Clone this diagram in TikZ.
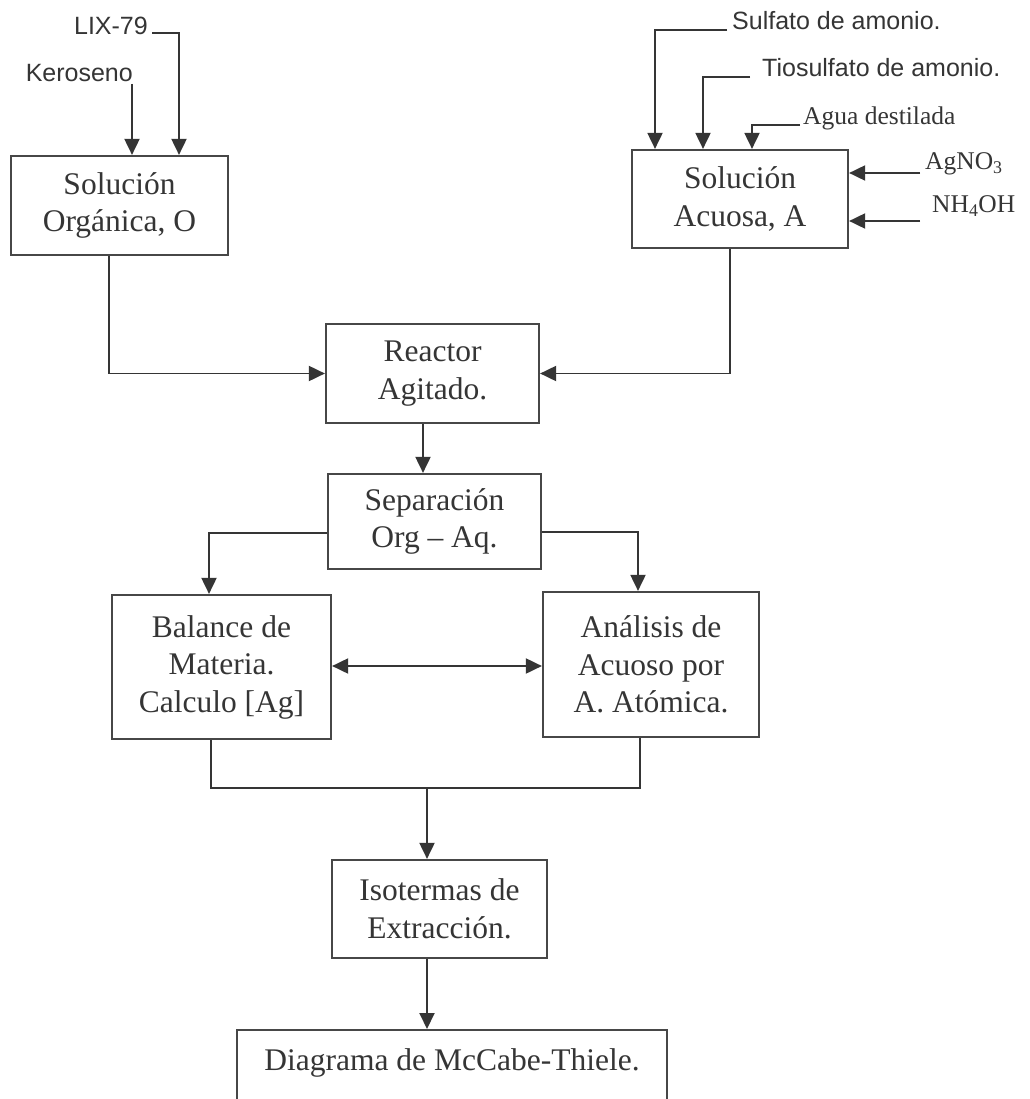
\documentclass[tikz,border=0pt]{standalone}
\usepackage{fontspec}
\usetikzlibrary{arrows.meta}
\newfontfamily\tnr[Ligatures=TeX]{Liberation Serif}
\newfontfamily\arl[Ligatures=TeX]{Liberation Sans}
\newcommand\boxfont{\tnr\fontsize{31.5}{37.5}\selectfont}
\newcommand\labfont{\tnr\fontsize{25.5}{30}\selectfont}
\newcommand\sansfont{\arl\fontsize{25}{30}\selectfont}
\definecolor{ink}{HTML}{353535}
\definecolor{boxc}{HTML}{474747}
\begin{document}
\begin{tikzpicture}[x=1pt,y=-1pt,
  box/.style={draw=boxc, line width=2.2pt, inner sep=0pt, align=center, font=\boxfont, text=ink},
  lab/.style={inner sep=0pt, font=\labfont, text=ink},
  slab/.style={inner sep=0pt, font=\sansfont, text=ink},
  conn/.style={draw=ink, line width=1.9pt},
  flow/.style={conn, -{Triangle[length=16pt,width=15pt]}},
  both/.style={conn, {Triangle[length=16pt,width=15pt]}-{Triangle[length=16pt,width=15pt]}}]
\clip (0,0) rectangle (1029,1099);
\fill[white] (0,0) rectangle (1029,1099);

% boxes
\node[box, minimum width=217pt, minimum height=99pt] (org) at (119.5,205.5) {Solución\\Orgánica, O};
\node[box, minimum width=216pt, minimum height=98pt] (acu) at (740,199) {Solución\\Acuosa, A};
\node[box, minimum width=213pt, minimum height=99pt] (reac) at (432.5,373.5) {Reactor\\Agitado.};
\node[box, minimum width=213pt, minimum height=95pt] (sep) at (434.5,521.5) {Separación\\Org – Aq.};
\node[box, minimum width=219pt, minimum height=144pt] (bal) at (221.5,667) {Balance de\\Materia.\\Calculo [Ag]};
\node[box, minimum width=216pt, minimum height=145pt] (ana) at (651,664.5) {Análisis de\\Acuoso por\\A. Atómica.};
\node[box, minimum width=215pt, minimum height=98pt] (iso) at (439.5,909) {Isotermas de\\Extracción.};
\node[box, minimum width=430pt, minimum height=120pt, anchor=north] (diag) at (452,1029) {};
\node[inner sep=0pt, font=\boxfont, text=ink, anchor=base] (diagt) at (452,1070) {Diagrama de McCabe-Thiele.};

% input labels
\node[slab, anchor=base east] (ker) at (133,82) {Keroseno};
\node[slab, anchor=base east] (lix) at (148,35) {LIX-79};
\node[slab, anchor=base west] (sulf) at (732,30) {Sulfato de amonio.};
\node[slab, anchor=base west] (tios) at (762,77) {Tiosulfato de amonio.};
\node[lab, anchor=base west] (agua) at (803,125) {Agua destilada};
\node[lab, anchor=base west] (agno) at (925,170) {AgNO\textsubscript{3}};
\node[lab, anchor=base west] (nh) at (932,213) {NH\textsubscript{4}OH};

% feed connectors
\coordinate (kin) at (132,84);
\draw[flow] (kin) -- (kin |- org.north);
\draw[flow] ([xshift=4pt,yshift=2pt]lix.base east) -| (179,0 |- org.north);
\draw[flow] ([xshift=-5pt]sulf.base west) -| (655,0 |- acu.north);
\draw[flow] ([xshift=-12pt]tios.base west) -| (703,0 |- acu.north);
\draw[flow] ([xshift=-3pt]agua.base west) -| (752,0 |- acu.north);
\draw[flow] ([xshift=-5pt,yshift=-3pt]agno.base west) -- (acu.east |- 0,173);
\draw[flow] ([xshift=-12pt,yshift=-8pt]nh.base west) -- (acu.east |- 0,221);

% process connectors
\draw[flow] ([xshift=-10.5pt]org.south) |- (reac.west);
\draw[flow] ([xshift=-10pt]acu.south) |- (reac.east);
\draw[flow] (423,0 |- reac.south) -- (423,0 |- sep.north);
\draw[flow] ([yshift=-11.5pt]sep.west) -| ([xshift=-12.5pt]bal.north);
\draw[flow] ([yshift=-10.5pt]sep.east) -| ([xshift=-13pt]ana.north);
\draw[both] (bal.east |- 0,666) -- (ana.west |- 0,666);
\draw[conn] ([xshift=-10.5pt]bal.south) -- ++(0,48) -| ([xshift=-11pt]ana.south);
\coordinate (m) at (427,787);
\draw[flow] (m) -- (m |- iso.north);
\draw[flow] (427,0 |- iso.south) -- (427,0 |- diag.north);
\end{tikzpicture}
\end{document}
